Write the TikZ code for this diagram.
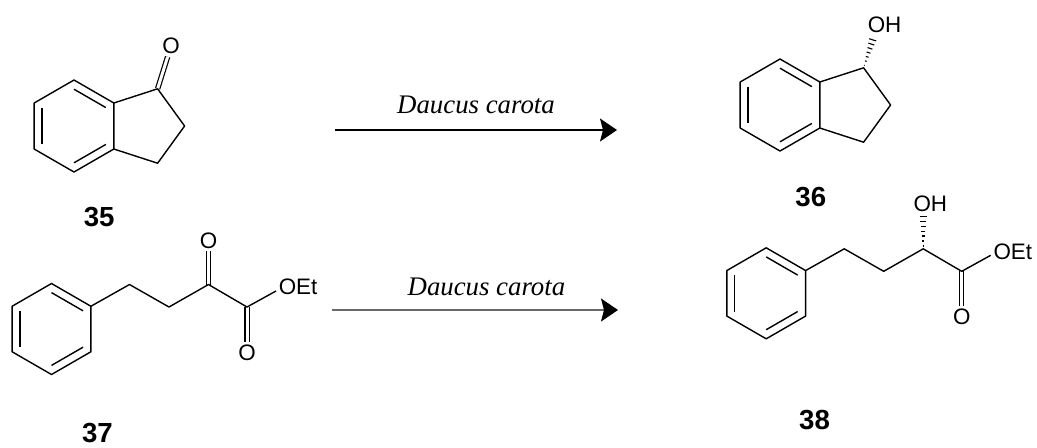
\documentclass[tikz,border=0pt]{standalone}
\usepackage{fontspec}
\setmainfont{Liberation Serif}
\setsansfont{Liberation Sans}
\usepackage{tikz}
\usetikzlibrary{arrows.meta,calc,positioning}
\definecolor{rxngrey}{RGB}{105,105,105}
\tikzstyle{bond} = [line width=0.7pt, line join=round]
\tikzstyle{dblbond} = [line width=0.6pt, double, double distance=1.5pt]
\tikzstyle{hash} = [line width=0.55pt]
\tikzstyle{atom} = [font=\sffamily\fontsize{11.2}{13}\selectfont, inner sep=1.2pt]
\tikzstyle{cmpd} = [font=\sffamily\bfseries\fontsize{13.8}{16}\selectfont]
\tikzstyle{reagent} = [font=\itshape\fontsize{13.4}{15}\selectfont]
\tikzstyle{rxnarrow} = [line width=0.65pt, -{Stealth[length=8.5pt,width=11.5pt,inset=1.5pt,color=black]}]

\begin{document}
\begin{tikzpicture}[x=0.5pt,y=-0.5pt]
\useasboundingbox (0,0) rectangle (1037,447);

% 35: indanone
\coordinate (ind1) at (74,80);
\coordinate (ind2) at (34.16,103);
\coordinate (ind3) at (34.16,149);
\coordinate (ind4) at (74,172);
\coordinate (ind5) at (113.84,149);
\coordinate (ind6) at (113.84,103);
\coordinate (indc) at (74,126);
\coordinate (ind7) at (157.6,88.8);
\coordinate (ind8) at (184.6,126);
\coordinate (ind9) at (157.6,163.2);
\node (o35) [atom] at (171,46) {O};
\draw[dblbond] (ind7) -- (o35);
\draw[bond] (ind1) -- (ind2) -- (ind3) -- (ind4) -- (ind5) -- (ind6) -- cycle;
\draw[bond] (ind6) -- (ind7) -- (ind8) -- (ind9) -- (ind5);
\foreach \p/\q in {1/6,2/3,4/5}
  \draw[bond] ($(ind\p)!0.2!(indc)$) -- ($(ind\q)!0.2!(indc)$);
\node (lbl35) [cmpd] at (99.2,216.7) {35};

% 36: indanol
\begin{scope}[shift={(706,-21)}]
\coordinate (ol1) at (74,80);
\coordinate (ol2) at (34.16,103);
\coordinate (ol3) at (34.16,149);
\coordinate (ol4) at (74,172);
\coordinate (ol5) at (113.84,149);
\coordinate (ol6) at (113.84,103);
\coordinate (olc) at (74,126);
\coordinate (ol7) at (157.6,88.8);
\coordinate (ol8) at (184.6,126);
\coordinate (ol9) at (157.6,163.2);
\coordinate (ol7h) at (167.5,58.4);
\node (oh36) [atom, anchor=west] at (159,46) {OH};
\draw[bond] (ol1) -- (ol2) -- (ol3) -- (ol4) -- (ol5) -- (ol6) -- cycle;
\draw[bond] (ol6) -- (ol7) -- (ol8) -- (ol9) -- (ol5);
\foreach \p/\q in {1/6,2/3,4/5}
  \draw[bond] ($(ol\p)!0.2!(olc)$) -- ($(ol\q)!0.2!(olc)$);
\foreach \t [evaluate=\t as \w using 2*\t] in {0.08,0.22,...,0.95}
  \draw[hash] ($(ol7)!\t!(ol7h)!\w pt!90:(ol7h)$) -- ($(ol7)!\t!(ol7h)!\w pt!-90:(ol7h)$);
\end{scope}
\node (lbl36) [cmpd] at (810.8,196.7) {36};

% 37: keto ester
\coordinate (ph1) at (51.5,283.5);
\coordinate (ph2) at (12.1,306.25);
\coordinate (ph3) at (12.1,351.75);
\coordinate (ph4) at (51.5,374.5);
\coordinate (ph5) at (90.9,351.75);
\coordinate (ph6) at (90.9,306.25);
\coordinate (phc) at (51.5,329);
\coordinate (kc1) at (129.5,284.5);
\coordinate (kc2) at (169,307);
\coordinate (kc3) at (208.5,284.5);
\coordinate (kc4) at (247,307);
\node (oket37) [atom] at (208.5,240.5) {O};
\node (oest37) [atom] at (247,352.5) {O};
\node (oet37) [atom, anchor=west] at (276,287) {OEt};
\draw[dblbond] (kc3) -- (oket37);
\draw[dblbond] (kc4) -- (oest37);
\draw[bond] (ph1) -- (ph2) -- (ph3) -- (ph4) -- (ph5) -- (ph6) -- cycle;
\draw[bond] (ph6) -- (kc1) -- (kc2) -- (kc3) -- (kc4) -- ([yshift=-2pt]oet37.west);
\foreach \p/\q in {1/6,2/3,4/5}
  \draw[bond] ($(ph\p)!0.2!(phc)$) -- ($(ph\q)!0.2!(phc)$);
\node (lbl37) [cmpd] at (97.5,433.3) {37};

% 38: hydroxy ester
\begin{scope}[shift={(714.7,-35.7)}]
\coordinate (hp1) at (51.5,283.5);
\coordinate (hp2) at (12.1,306.25);
\coordinate (hp3) at (12.1,351.75);
\coordinate (hp4) at (51.5,374.5);
\coordinate (hp5) at (90.9,351.75);
\coordinate (hp6) at (90.9,306.25);
\coordinate (hpc) at (51.5,329);
\coordinate (hc1) at (129.5,284.5);
\coordinate (hc2) at (169,307);
\coordinate (hc3) at (208.5,284.5);
\coordinate (hc4) at (247,307);
\coordinate (hc3h) at (208.5,249);
\node (oh38) [atom, anchor=west] at (196,239) {OH};
\node (oest38) [atom] at (247,352.5) {O};
\node (oet38) [atom, anchor=west] at (276,287) {OEt};
\draw[dblbond] (hc4) -- (oest38);
\draw[bond] (hp1) -- (hp2) -- (hp3) -- (hp4) -- (hp5) -- (hp6) -- cycle;
\draw[bond] (hp6) -- (hc1) -- (hc2) -- (hc3) -- (hc4) -- ([yshift=-2pt]oet38.west);
\foreach \p/\q in {1/6,2/3,4/5}
  \draw[bond] ($(hp\p)!0.2!(hpc)$) -- ($(hp\q)!0.2!(hpc)$);
\foreach \t [evaluate=\t as \w using 2*\t] in {0.08,0.22,...,0.95}
  \draw[hash] ($(hc3)!\t!(hc3h)!\w pt!90:(hc3h)$) -- ($(hc3)!\t!(hc3h)!\w pt!-90:(hc3h)$);
\end{scope}
\node (lbl38) [cmpd] at (814.5,420.3) {38};

% reaction arrows
\coordinate (arr1s) at (335,130);
\coordinate (arr1e) at (617,130);
\coordinate (arr2s) at (332,310);
\coordinate (arr2e) at (618,310);
\draw[rxnarrow] (arr1s) -- node[reagent, above=4.5pt] {Daucus carota} (arr1e);
\draw[rxnarrow, color=rxngrey] (arr2s) -- node[reagent, above=3.5pt, pos=0.54, text=black] {Daucus carota} (arr2e);
\end{tikzpicture}
\end{document}
